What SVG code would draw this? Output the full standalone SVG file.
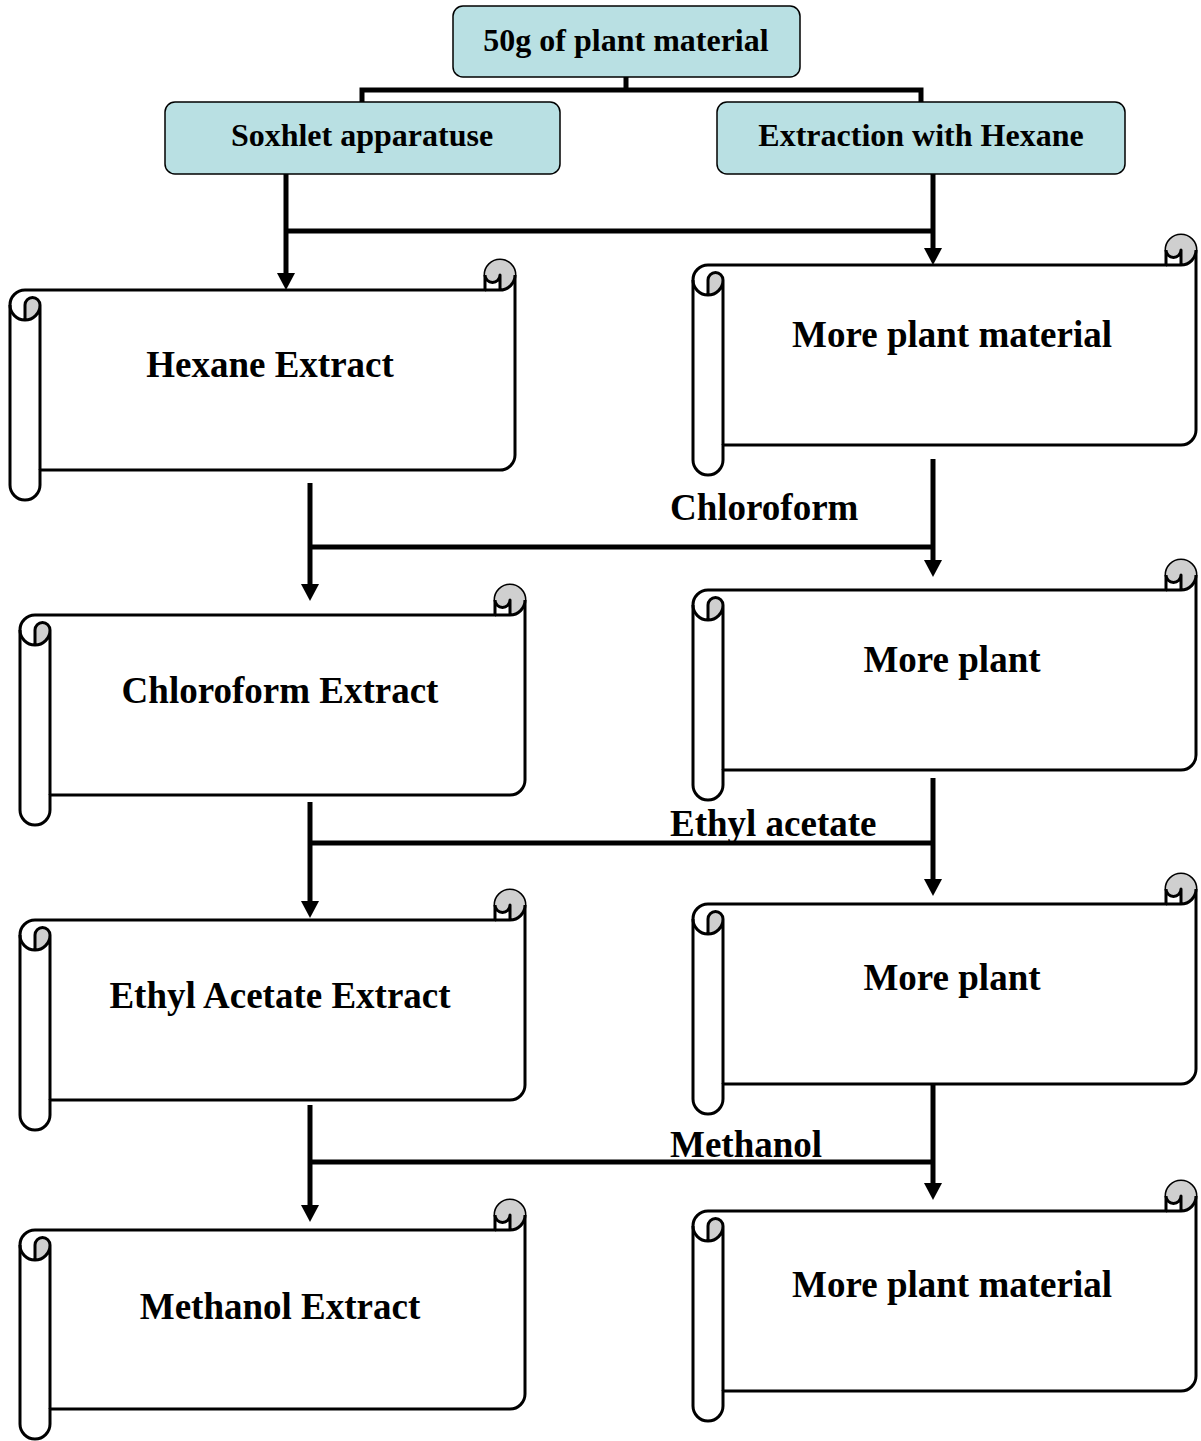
<svg xmlns="http://www.w3.org/2000/svg" width="1201" height="1441" viewBox="0 0 1201 1441">
<style>
.box{fill:#b9e0e3;stroke:#000;stroke-width:1.5}
.bt{font-family:"Liberation Serif","Times New Roman",serif;font-weight:bold;font-size:32px;text-anchor:middle;fill:#000}
.st{font-family:"Liberation Serif","Times New Roman",serif;font-weight:bold;font-size:37px;text-anchor:middle;fill:#000}
.lt{font-family:"Liberation Serif","Times New Roman",serif;font-weight:bold;font-size:37px;fill:#000}
.sf{fill:#fff;stroke:#000;stroke-width:3;stroke-linejoin:round}
.sd{fill:#cfcfcf;stroke:none}
.sl{fill:none;stroke:#000;stroke-width:3;stroke-linejoin:round}
.c{fill:none;stroke:#000;stroke-width:5}
</style>
<defs>
<marker id="ah" viewBox="0 -9 17 18" markerUnits="userSpaceOnUse" markerWidth="17" markerHeight="18" refX="0" refY="0" orient="auto">
<path d="M0,-9 L17,0 L0,9 Z" fill="#000"/>
</marker>
</defs>

<g id="n-start"><rect class="box" x="453" y="6" width="347" height="71" rx="10"/><text class="bt" x="626" y="51">50g of plant material</text></g>
<g id="n-soxhlet"><rect class="box" x="165" y="102" width="395" height="72" rx="10"/><text class="bt" x="362" y="146">Soxhlet apparatuse</text></g>
<g id="n-hexane-ext"><rect class="box" x="717" y="102" width="408" height="72" rx="10"/><text class="bt" x="921" y="146">Extraction with Hexane</text></g>

<!-- Scroll 1: L=10 T=260 R=515 B=500 -->
<g id="n-hexane">
<path class="sf" d="M10,305 A15,15 0 0 1 25,290 L485,290 L485,275 A15,15 0 0 1 515,275 L515,455 A15,15 0 0 1 500,470 L40,470 L40,485 A15,15 0 0 1 10,485 Z"/>
<path class="sd" d="M25,320 A15,15 0 0 0 40,305 A7.5,7.5 0 0 0 25,305 Z"/>
<path class="sd" d="M500,290 A15,15 0 1 0 485,275 A7.5,7.5 0 0 0 500,275 Z"/>
<path class="sl" d="M485,290 L500,290 A15,15 0 0 0 515,275 M500,290 L500,275 A7.5,7.5 0 0 1 485,275 M25,320 L25,305 A7.5,7.5 0 0 1 40,305 A15,15 0 0 1 10,305 M40,305 L40,470"/>
<text class="st" x="270" y="377">Hexane Extract</text>
</g>

<!-- Scroll 2: L=693 T=235 R=1196 B=475 -->
<g id="n-more1">
<path class="sf" d="M693,280 A15,15 0 0 1 708,265 L1166,265 L1166,250 A15,15 0 0 1 1196,250 L1196,430 A15,15 0 0 1 1181,445 L723,445 L723,460 A15,15 0 0 1 693,460 Z"/>
<path class="sd" d="M708,295 A15,15 0 0 0 723,280 A7.5,7.5 0 0 0 708,280 Z"/>
<path class="sd" d="M1181,265 A15,15 0 1 0 1166,250 A7.5,7.5 0 0 0 1181,250 Z"/>
<path class="sl" d="M1166,265 L1181,265 A15,15 0 0 0 1196,250 M1181,265 L1181,250 A7.5,7.5 0 0 1 1166,250 M708,295 L708,280 A7.5,7.5 0 0 1 723,280 A15,15 0 0 1 693,280 M723,280 L723,445"/>
<text class="st" x="952" y="347">More plant material</text>
</g>

<!-- Scroll 3: L=20 T=585 R=525 B=825 -->
<g id="n-chloro">
<path class="sf" d="M20,630 A15,15 0 0 1 35,615 L495,615 L495,600 A15,15 0 0 1 525,600 L525,780 A15,15 0 0 1 510,795 L50,795 L50,810 A15,15 0 0 1 20,810 Z"/>
<path class="sd" d="M35,645 A15,15 0 0 0 50,630 A7.5,7.5 0 0 0 35,630 Z"/>
<path class="sd" d="M510,615 A15,15 0 1 0 495,600 A7.5,7.5 0 0 0 510,600 Z"/>
<path class="sl" d="M495,615 L510,615 A15,15 0 0 0 525,600 M510,615 L510,600 A7.5,7.5 0 0 1 495,600 M35,645 L35,630 A7.5,7.5 0 0 1 50,630 A15,15 0 0 1 20,630 M50,630 L50,795"/>
<text class="st" x="280" y="703">Chloroform Extract</text>
</g>

<!-- Scroll 4: L=693 T=560 R=1196 B=800 -->
<g id="n-more2">
<path class="sf" d="M693,605 A15,15 0 0 1 708,590 L1166,590 L1166,575 A15,15 0 0 1 1196,575 L1196,755 A15,15 0 0 1 1181,770 L723,770 L723,785 A15,15 0 0 1 693,785 Z"/>
<path class="sd" d="M708,620 A15,15 0 0 0 723,605 A7.5,7.5 0 0 0 708,605 Z"/>
<path class="sd" d="M1181,590 A15,15 0 1 0 1166,575 A7.5,7.5 0 0 0 1181,575 Z"/>
<path class="sl" d="M1166,590 L1181,590 A15,15 0 0 0 1196,575 M1181,590 L1181,575 A7.5,7.5 0 0 1 1166,575 M708,620 L708,605 A7.5,7.5 0 0 1 723,605 A15,15 0 0 1 693,605 M723,605 L723,770"/>
<text class="st" x="952" y="672">More plant</text>
</g>

<!-- Scroll 5: L=20 T=890 R=525 B=1130 -->
<g id="n-ethyl">
<path class="sf" d="M20,935 A15,15 0 0 1 35,920 L495,920 L495,905 A15,15 0 0 1 525,905 L525,1085 A15,15 0 0 1 510,1100 L50,1100 L50,1115 A15,15 0 0 1 20,1115 Z"/>
<path class="sd" d="M35,950 A15,15 0 0 0 50,935 A7.5,7.5 0 0 0 35,935 Z"/>
<path class="sd" d="M510,920 A15,15 0 1 0 495,905 A7.5,7.5 0 0 0 510,905 Z"/>
<path class="sl" d="M495,920 L510,920 A15,15 0 0 0 525,905 M510,920 L510,905 A7.5,7.5 0 0 1 495,905 M35,950 L35,935 A7.5,7.5 0 0 1 50,935 A15,15 0 0 1 20,935 M50,935 L50,1100"/>
<text class="st" x="280" y="1008">Ethyl Acetate Extract</text>
</g>

<!-- Scroll 6: L=693 T=874 R=1196 B=1114 -->
<g id="n-more3">
<path class="sf" d="M693,919 A15,15 0 0 1 708,904 L1166,904 L1166,889 A15,15 0 0 1 1196,889 L1196,1069 A15,15 0 0 1 1181,1084 L723,1084 L723,1099 A15,15 0 0 1 693,1099 Z"/>
<path class="sd" d="M708,934 A15,15 0 0 0 723,919 A7.5,7.5 0 0 0 708,919 Z"/>
<path class="sd" d="M1181,904 A15,15 0 1 0 1166,889 A7.5,7.5 0 0 0 1181,889 Z"/>
<path class="sl" d="M1166,904 L1181,904 A15,15 0 0 0 1196,889 M1181,904 L1181,889 A7.5,7.5 0 0 1 1166,889 M708,934 L708,919 A7.5,7.5 0 0 1 723,919 A15,15 0 0 1 693,919 M723,919 L723,1084"/>
<text class="st" x="952" y="990">More plant</text>
</g>

<!-- Scroll 7: L=20 T=1200 R=525 B=1439 -->
<g id="n-methanol">
<path class="sf" d="M20,1245 A15,15 0 0 1 35,1230 L495,1230 L495,1215 A15,15 0 0 1 525,1215 L525,1394 A15,15 0 0 1 510,1409 L50,1409 L50,1424 A15,15 0 0 1 20,1424 Z"/>
<path class="sd" d="M35,1260 A15,15 0 0 0 50,1245 A7.5,7.5 0 0 0 35,1245 Z"/>
<path class="sd" d="M510,1230 A15,15 0 1 0 495,1215 A7.5,7.5 0 0 0 510,1215 Z"/>
<path class="sl" d="M495,1230 L510,1230 A15,15 0 0 0 525,1215 M510,1230 L510,1215 A7.5,7.5 0 0 1 495,1215 M35,1260 L35,1245 A7.5,7.5 0 0 1 50,1245 A15,15 0 0 1 20,1245 M50,1245 L50,1409"/>
<text class="st" x="280" y="1319">Methanol Extract</text>
</g>

<!-- Scroll 8: L=693 T=1181 R=1196 B=1421 -->
<g id="n-more4">
<path class="sf" d="M693,1226 A15,15 0 0 1 708,1211 L1166,1211 L1166,1196 A15,15 0 0 1 1196,1196 L1196,1376 A15,15 0 0 1 1181,1391 L723,1391 L723,1406 A15,15 0 0 1 693,1406 Z"/>
<path class="sd" d="M708,1241 A15,15 0 0 0 723,1226 A7.5,7.5 0 0 0 708,1226 Z"/>
<path class="sd" d="M1181,1211 A15,15 0 1 0 1166,1196 A7.5,7.5 0 0 0 1181,1196 Z"/>
<path class="sl" d="M1166,1211 L1181,1211 A15,15 0 0 0 1196,1196 M1181,1211 L1181,1196 A7.5,7.5 0 0 1 1166,1196 M708,1241 L708,1226 A7.5,7.5 0 0 1 723,1226 A15,15 0 0 1 693,1226 M723,1226 L723,1391"/>
<text class="st" x="952" y="1297">More plant material</text>
</g>

<g id="connectors">
<path class="c" d="M626,77 L626,90 M359.5,90 L923.5,90 M362,88 L362,102 M921,88 L921,102"/>
<path class="c" d="M286,174 L286,231 M286,231 L933,231"/>
<path class="c" d="M286,231 L286,273" marker-end="url(#ah)"/>
<path class="c" d="M933,174 L933,248" marker-end="url(#ah)"/>
<path class="c" d="M310,483 L310,584" marker-end="url(#ah)"/>
<path class="c" d="M933,459 L933,560" marker-end="url(#ah)"/>
<path class="c" d="M310,547 L933,547"/>
<path class="c" d="M310,802 L310,901" marker-end="url(#ah)"/>
<path class="c" d="M933,778 L933,879" marker-end="url(#ah)"/>
<path class="c" d="M310,843 L933,843"/>
<path class="c" d="M310,1105 L310,1205" marker-end="url(#ah)"/>
<path class="c" d="M933,1085 L933,1183" marker-end="url(#ah)"/>
<path class="c" d="M310,1162 L933,1162"/>
<text class="lt" x="670" y="520">Chloroform</text>
<text class="lt" x="670" y="836">Ethyl acetate</text>
<text class="lt" x="670" y="1157">Methanol</text>
</g>
</svg>
